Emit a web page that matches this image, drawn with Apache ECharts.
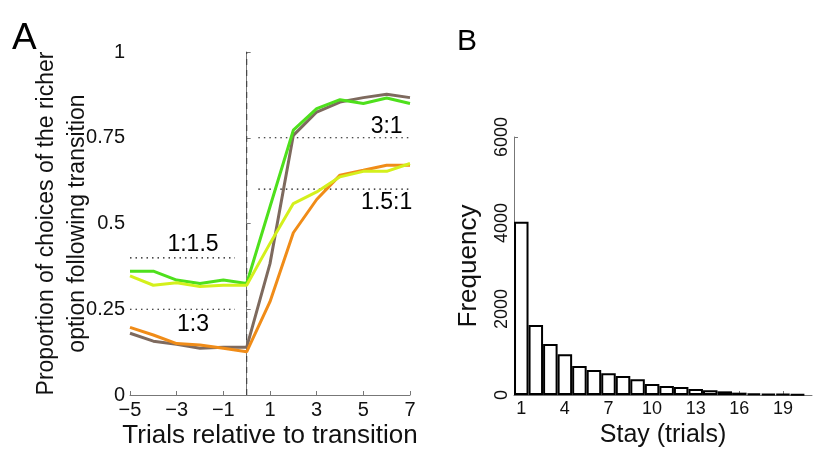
<!DOCTYPE html>
<html>
<head>
<meta charset="utf-8">
<script src="https://cdn.jsdelivr.net/npm/echarts@6/dist/echarts.min.js"></script>
<style>
  html, body { margin: 0; padding: 0; background: #fff; }
  #chart { width: 825px; height: 465px; }
</style>
</head>
<body>
<div id="chart"></div>
<script>
// panel A: trials relative to transition
var trials = [-5, -4, -3, -2, -1, 0, 1, 2, 3, 4, 5, 6, 7];
var brown  = [0.18, 0.157, 0.148, 0.136, 0.139, 0.139, 0.383, 0.757, 0.825, 0.854, 0.867, 0.877, 0.867];
var orange = [0.197, 0.175, 0.15, 0.146, 0.136, 0.126, 0.272, 0.473, 0.57, 0.641, 0.655, 0.67, 0.67];
var green  = [0.361, 0.361, 0.335, 0.325, 0.335, 0.325, 0.549, 0.772, 0.835, 0.861, 0.85, 0.866, 0.85];
var yellow = [0.347, 0.32, 0.327, 0.316, 0.32, 0.32, 0.442, 0.558, 0.592, 0.636, 0.652, 0.652, 0.675];
var xTicksA = [-5, -3, -1, 1, 3, 5, 7];

// reference levels: [label, level, from, to, labelX, labelY]
var refLines = [
  ["1:1.5", 0.4, -5, -0.5, -2.3, 0.437],
  ["1:3", 0.25, -5, -0.5, -2.3, 0.204],
  ["3:1", 0.75, 0.5, 7, 6.0, 0.781],
  ["1.5:1", 0.6, 0.5, 7, 6.0, 0.56]
];

// panel B: stay histogram
var stay = [1, 2, 3, 4, 5, 6, 7, 8, 9, 10, 11, 12, 13, 14, 15, 16, 17, 18, 19, 20];
var freq = [4030, 1626, 1184, 945, 674, 581, 503, 441, 364, 255, 209, 186, 139, 108, 85, 54, 39, 23, 23, 15];
var xTicksB = [1, 4, 7, 10, 13, 16, 19];

var font = "Liberation Sans";
var chart = echarts.init(document.getElementById("chart"));

function pairs(xs, ys) {
  return xs.map(function (x, i) { return [x, ys[i]]; });
}

function lineSeries(name, vals, color) {
  return {
    name: name,
    type: "line",
    xAxisIndex: 0,
    yAxisIndex: 0,
    data: pairs(trials, vals),
    showSymbol: false,
    symbol: "none",
    lineStyle: { color: color, width: 3 },
    animation: false,
    z: 3
  };
}

var series = [];

// dotted reference lines
refLines.forEach(function (r) {
  series.push({
    type: "line",
    xAxisIndex: 0,
    yAxisIndex: 0,
    data: [[r[2], r[1]], [r[3], r[1]]],
    symbol: "none",
    lineStyle: { color: "#111", width: 1.2, type: [1.5, 4] },
    animation: false,
    z: 1
  });
});

// dashed transition marker at 0
series.push({
  type: "line",
  xAxisIndex: 0,
  yAxisIndex: 0,
  data: [[0, 0], [0, 1]],
  symbol: "none",
  lineStyle: { color: "#444", width: 1.2, type: [6, 5] },
  animation: false,
  z: 2
});

// labels of the reference lines
series.push({
  type: "scatter",
  xAxisIndex: 0,
  yAxisIndex: 0,
  symbolSize: 1,
  itemStyle: { opacity: 0 },
  data: refLines.map(function (r) { return { value: [r[4], r[5]], name: r[0] }; }),
  label: {
    show: true,
    position: "inside",
    formatter: "{b}",
    fontFamily: font,
    fontSize: 23,
    color: "#000",
    opacity: 1,
    textBorderWidth: 0
  },
  animation: false,
  z: 4
});

series.push(lineSeries("brown", brown, "#7e6a5e"));
series.push(lineSeries("orange", orange, "#f08c18"));
series.push(lineSeries("green", green, "#4ee01c"));
series.push(lineSeries("yellow", yellow, "#d4f01c"));

series.push({
  type: "bar",
  xAxisIndex: 1,
  yAxisIndex: 1,
  data: pairs(stay, freq),
  barWidth: 14.5,
  itemStyle: { color: "#fff", borderColor: "#000", borderWidth: 2 },
  animation: false
});

var axisLineGray = { show: true, lineStyle: { color: "#777", width: 1 } };

var option = {
  backgroundColor: "#fff",
  title: [
    { text: "A", left: 7, top: 15, textStyle: { fontFamily: font, fontSize: 37, fontWeight: "normal", color: "#000" } },
    { text: "B", left: 452, top: 22, textStyle: { fontFamily: font, fontSize: 30, fontWeight: "normal", color: "#000" } }
  ],
  grid: [
    { left: 130, top: 52, width: 280, height: 343 },
    { left: 514, top: 137, width: 298, height: 258 }
  ],
  xAxis: [
    {
      type: "value",
      gridIndex: 0,
      min: -5,
      max: 7,
      name: "Trials relative to transition",
      nameLocation: "middle",
      nameGap: 28,
      nameMoveOverlap: false,
      nameTextStyle: { fontFamily: font, fontSize: 26, color: "#111" },
      axisLine: axisLineGray,
      axisTick: { show: true, inside: true, length: 4, customValues: xTicksA, lineStyle: { color: "#777" } },
      axisLabel: {
        customValues: xTicksA,
        fontFamily: font,
        fontSize: 20,
        color: "#111",
        margin: 5,
        formatter: function (v) { return v < 0 ? "\u2212" + Math.abs(v) : String(v); }
      },
      splitLine: { show: false }
    },
    {
      type: "value",
      gridIndex: 1,
      min: 0.5,
      max: 21,
      name: "Stay (trials)",
      nameLocation: "middle",
      nameGap: 18,
      nameTextStyle: { fontFamily: font, fontSize: 25, color: "#111" },
      axisLine: axisLineGray,
      axisTick: { show: true, inside: true, length: 4, customValues: xTicksB, lineStyle: { color: "#777" } },
      axisLabel: { customValues: xTicksB, fontFamily: font, fontSize: 18, color: "#111", margin: 5 },
      splitLine: { show: false }
    }
  ],
  yAxis: [
    {
      type: "value",
      gridIndex: 0,
      min: 0,
      max: 1,
      interval: 0.25,
      name: "Proportion of choices of the richer\noption following transition",
      nameLocation: "middle",
      nameGap: 37,
      nameMoveOverlap: false,
      nameRotate: 90,
      nameTextStyle: { fontFamily: font, fontSize: 23, color: "#111", lineHeight: 31 },
      axisLine: axisLineGray,
      axisTick: { show: true, inside: true, length: 4, lineStyle: { color: "#777" } },
      axisLabel: { fontFamily: font, fontSize: 20, color: "#111", margin: 5 },
      splitLine: { show: false }
    },
    {
      type: "value",
      gridIndex: 1,
      min: 0,
      max: 6000,
      interval: 2000,
      name: "Frequency",
      nameLocation: "middle",
      nameGap: 32,
      nameMoveOverlap: false,
      nameRotate: 90,
      nameTextStyle: { fontFamily: font, fontSize: 26, color: "#111" },
      axisLine: axisLineGray,
      axisTick: { show: true, inside: true, length: 4, lineStyle: { color: "#777" } },
      axisLabel: {
        fontFamily: font,
        fontSize: 18,
        color: "#111",
        rotate: 90,
        margin: 3,
        formatter: function (v) { return String(v); }
      },
      splitLine: { show: false }
    }
  ],
  series: series
};

chart.setOption(option);
</script>
</body>
</html>
